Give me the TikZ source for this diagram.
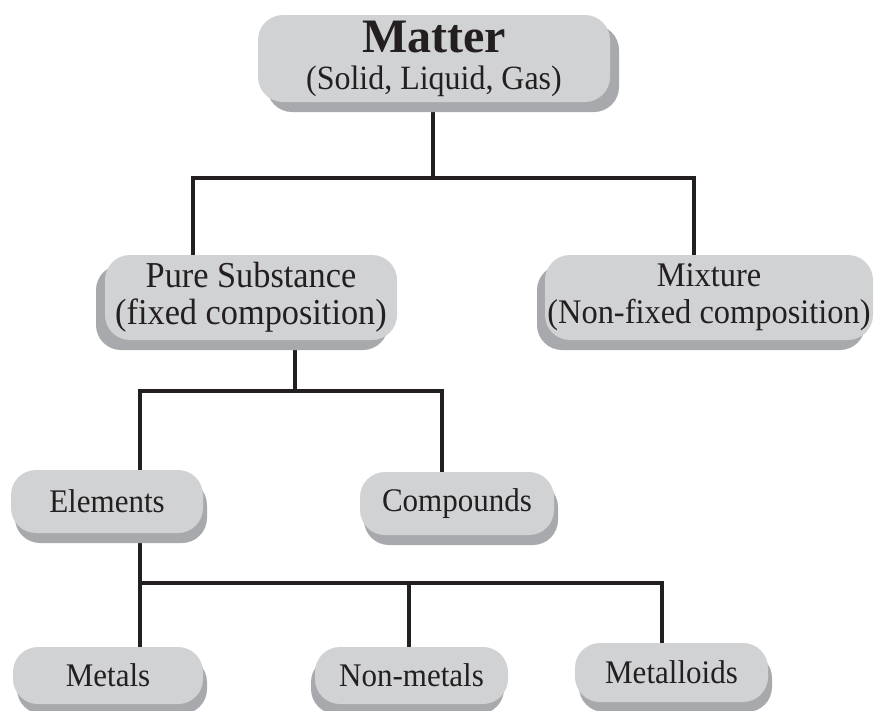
\documentclass[tikz,border=0pt]{standalone}
\usepackage{fontspec}
\setmainfont{Liberation Serif}
\newfontfamily\tallserif{Liberation Serif}[FakeStretch=0.94]
\usepackage{tikz}
\usetikzlibrary{shadows, backgrounds}
\definecolor{boxgray}{HTML}{D1D2D4}
\definecolor{shadegray}{HTML}{A7A9AC}
\definecolor{inkblack}{HTML}{231F20}

\begin{document}
\begin{tikzpicture}[
			x=1pt, y=-1pt,
			box/.style={rounded corners=25pt, fill=boxgray, text=inkblack, align=center, inner sep=0pt,
				general shadow={fill=shadegray, shadow xshift=#1, shadow yshift=-10pt}},
			box/.default=4pt,
			link/.style={draw=inkblack, line width=3.5pt},
			big/.style={font=\tallserif\fontsize{36.5}{37}\selectfont},
			small/.style={font=\tallserif\fontsize{33}{34}\selectfont}
			]
			\useasboundingbox (0,0) rectangle (875,710);
			\node[box=9pt, minimum width=352pt, minimum height=87pt, font=\tallserif\fontsize{34}{37}\selectfont] (matter) at (434,58.5)
				{{\rmfamily\bfseries\fontsize{48}{37}\selectfont Matter}\\(Solid, Liquid, Gas)};
			\node[box=-9pt, big, minimum width=292pt, minimum height=85pt] (pure) at (251,297.5) {Pure Substance\\(fixed composition)};
			\node[box=-8pt, font=\tallserif\fontsize{34.5}{37}\selectfont, minimum width=328pt, minimum height=85pt] (mix) at (709,297.5) {Mixture\\(Non-fixed composition)};
			\node[box, small, minimum width=192pt, minimum height=63pt] (elem) at (107,501.5) {Elements};
			\node[box, small, minimum width=194pt, minimum height=63pt] (comp) at (457,503.5) {Compounds};
			\node[box, small, minimum width=190pt, minimum height=57pt] (metal) at (108,675.5) {Metals};
			\node[box=-4pt, small, minimum width=193pt, minimum height=57pt] (nonmetal) at (411.5,675.5) {Non-metals};
			\node[box, small, minimum width=193pt, minimum height=59pt] (metalloid) at (671.5,672.5) {Metalloids};
			\begin{scope}[on background layer]
				\coordinate (top) at (433,178);
				\coordinate (mid) at (295,391);
				\coordinate (low) at (140,583);
				\draw[link] (matter.center -| top) -- (top);
				\draw[link] ([xshift=-58pt]pure.center) |- (top) -| ([xshift=-15pt]mix.center);
				\draw[link] (pure.center -| mid) -- (mid);
				\draw[link] ([xshift=33pt]elem.center) |- (mid) -| ([xshift=-15pt]comp.center);
				\draw[link] (elem.center -| low) -- (low);
				\draw[link] ([xshift=32pt]metal.center) |- (low) -| ([xshift=-9.5pt]metalloid.center);
				\draw[link] ([xshift=-2.5pt]nonmetal.center) |- (low);
			\end{scope}
		\end{tikzpicture}
\end{document}
